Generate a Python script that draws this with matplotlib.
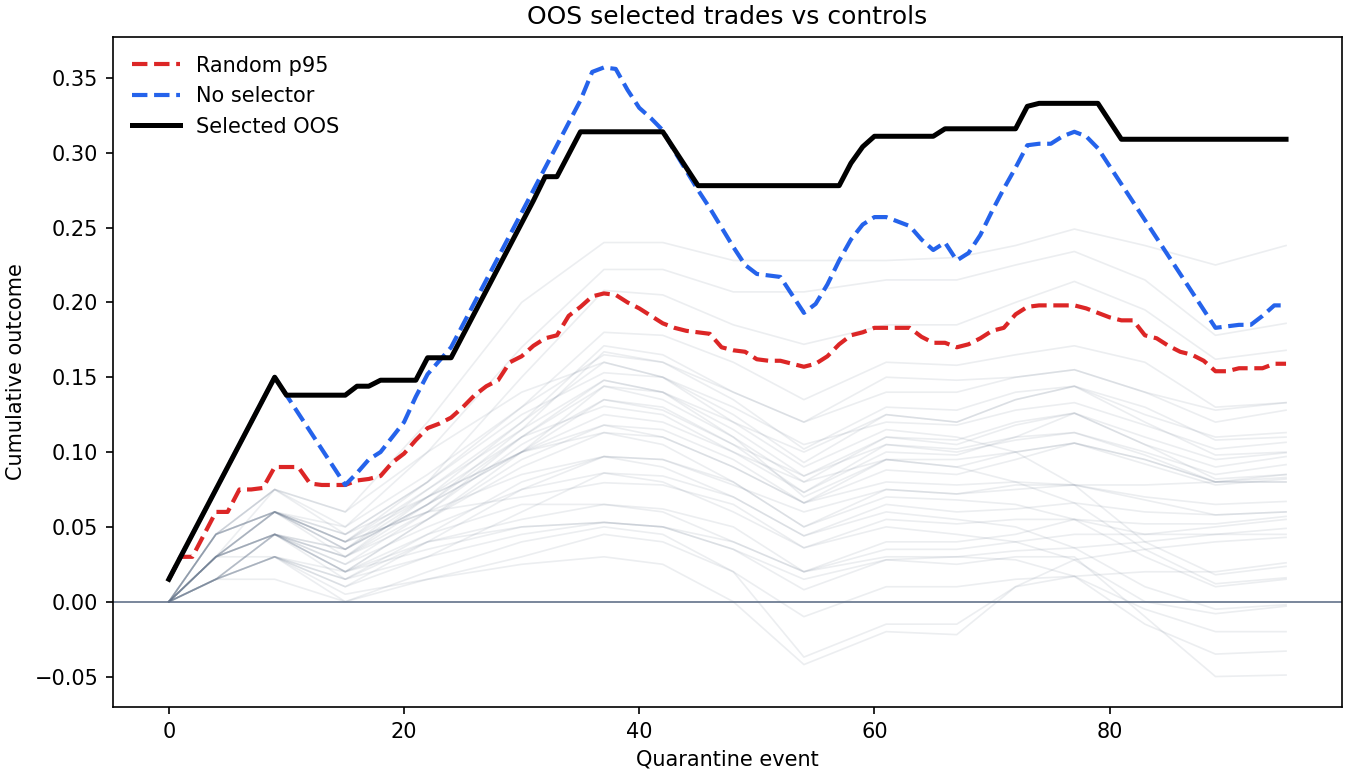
import numpy as np
import matplotlib
matplotlib.use("Agg")
import matplotlib.pyplot as plt

# events 0..95
events = list(range(96))

selected_oos = [
    0.015, 0.030, 0.045, 0.060, 0.075, 0.090, 0.105, 0.120, 0.135, 0.150,
    0.138, 0.138, 0.138, 0.138, 0.138, 0.138, 0.144, 0.144, 0.148, 0.148,
    0.148, 0.148, 0.163, 0.163, 0.163, 0.178, 0.193, 0.208, 0.223, 0.238,
    0.253, 0.268, 0.284, 0.284, 0.299, 0.314, 0.314, 0.314, 0.314, 0.314,
    0.314, 0.314, 0.314, 0.302, 0.290, 0.278, 0.278, 0.278, 0.278, 0.278,
    0.278, 0.278, 0.278, 0.278, 0.278, 0.278, 0.278, 0.278, 0.293, 0.304,
    0.311, 0.311, 0.311, 0.311, 0.311, 0.311, 0.316, 0.316, 0.316, 0.316,
    0.316, 0.316, 0.316, 0.331, 0.333, 0.333, 0.333, 0.333, 0.333, 0.333,
    0.321, 0.309, 0.309, 0.309, 0.309, 0.309, 0.309, 0.309, 0.309, 0.309,
    0.309, 0.309, 0.309, 0.309, 0.309, 0.309,
]

no_selector = [
    0.015, 0.030, 0.045, 0.060, 0.075, 0.090, 0.105, 0.120, 0.135, 0.150,
    0.138, 0.126, 0.114, 0.102, 0.090, 0.078, 0.086, 0.095, 0.100, 0.110,
    0.120, 0.137, 0.152, 0.161, 0.170, 0.185, 0.200, 0.215, 0.230, 0.245,
    0.260, 0.275, 0.290, 0.305, 0.320, 0.335, 0.354, 0.357, 0.356, 0.342,
    0.330, 0.323, 0.315, 0.301, 0.288, 0.275, 0.263, 0.250, 0.237, 0.225,
    0.219, 0.218, 0.217, 0.205, 0.193, 0.199, 0.212, 0.228, 0.242, 0.252,
    0.257, 0.257, 0.254, 0.251, 0.242, 0.235, 0.240, 0.228, 0.233, 0.245,
    0.261, 0.276, 0.290, 0.305, 0.306, 0.306, 0.311, 0.314, 0.311, 0.303,
    0.291, 0.279, 0.267, 0.255, 0.243, 0.231, 0.219, 0.207, 0.195, 0.183,
    0.184, 0.185, 0.185, 0.191, 0.198, 0.198,
]

random_p95 = [
    0.015, 0.030, 0.030, 0.045, 0.060, 0.060, 0.075, 0.075, 0.076, 0.090,
    0.090, 0.090, 0.079, 0.078, 0.078, 0.078, 0.081, 0.082, 0.084, 0.093,
    0.099, 0.108, 0.116, 0.119, 0.123, 0.130, 0.138, 0.144, 0.148, 0.160,
    0.164, 0.171, 0.176, 0.178, 0.191, 0.197, 0.204, 0.206, 0.205, 0.200,
    0.196, 0.191, 0.186, 0.183, 0.181, 0.180, 0.179, 0.170, 0.168, 0.167,
    0.162, 0.161, 0.161, 0.159, 0.157, 0.159, 0.164, 0.172, 0.178, 0.180,
    0.183, 0.183, 0.183, 0.183, 0.177, 0.173, 0.173, 0.170, 0.172, 0.176,
    0.181, 0.183, 0.192, 0.197, 0.198, 0.198, 0.198, 0.198, 0.196, 0.193,
    0.190, 0.188, 0.188, 0.178, 0.176, 0.171, 0.167, 0.165, 0.161, 0.154,
    0.154, 0.156, 0.156, 0.156, 0.159, 0.159,
]

# random control paths, read at these events
control_events = [0, 4, 9, 15, 22, 30, 37, 42, 48, 54, 61, 67, 72, 77, 83, 89, 95]
controls = [
    [0, 0.045, 0.075, 0.060, 0.120, 0.200, 0.240, 0.240, 0.228, 0.228, 0.228, 0.230, 0.238, 0.249, 0.238, 0.225, 0.238],
    [0, 0.030, 0.060, 0.050, 0.100, 0.170, 0.222, 0.222, 0.207, 0.207, 0.215, 0.215, 0.225, 0.234, 0.215, 0.178, 0.186],
    [0, 0.045, 0.060, 0.040, 0.080, 0.150, 0.208, 0.205, 0.185, 0.172, 0.185, 0.185, 0.200, 0.214, 0.195, 0.162, 0.168],
    [0, 0.030, 0.075, 0.050, 0.085, 0.130, 0.180, 0.178, 0.160, 0.135, 0.160, 0.158, 0.165, 0.171, 0.160, 0.130, 0.133],
    [0, 0.045, 0.060, 0.030, 0.070, 0.120, 0.171, 0.165, 0.140, 0.120, 0.150, 0.148, 0.150, 0.155, 0.140, 0.120, 0.128],
    [0, 0.015, 0.045, 0.035, 0.065, 0.115, 0.167, 0.160, 0.135, 0.102, 0.130, 0.128, 0.140, 0.144, 0.125, 0.110, 0.113],
    [0, 0.030, 0.060, 0.040, 0.075, 0.120, 0.160, 0.150, 0.125, 0.093, 0.125, 0.120, 0.135, 0.144, 0.130, 0.108, 0.110],
    [0, 0.045, 0.075, 0.045, 0.080, 0.125, 0.153, 0.150, 0.130, 0.105, 0.120, 0.118, 0.128, 0.133, 0.118, 0.102, 0.1065],
    [0, 0.030, 0.045, 0.025, 0.060, 0.110, 0.148, 0.140, 0.115, 0.084, 0.110, 0.108, 0.120, 0.126, 0.110, 0.095, 0.0995],
    [0, 0.015, 0.030, 0.020, 0.055, 0.100, 0.144, 0.135, 0.110, 0.080, 0.110, 0.105, 0.118, 0.126, 0.105, 0.090, 0.097],
    [0, 0.030, 0.045, 0.030, 0.060, 0.105, 0.135, 0.130, 0.105, 0.073, 0.100, 0.098, 0.110, 0.113, 0.100, 0.085, 0.0916],
    [0, 0.045, 0.060, 0.035, 0.065, 0.110, 0.1306, 0.125, 0.100, 0.073, 0.105, 0.100, 0.108, 0.113, 0.098, 0.080, 0.085],
    [0, 0.015, 0.045, 0.030, 0.055, 0.095, 0.118, 0.115, 0.095, 0.066, 0.095, 0.090, 0.100, 0.106, 0.095, 0.080, 0.083],
    [0, 0.030, 0.060, 0.045, 0.070, 0.100, 0.113, 0.110, 0.090, 0.066, 0.088, 0.085, 0.095, 0.106, 0.092, 0.078, 0.082],
    [0, 0.015, 0.030, 0.015, 0.045, 0.080, 0.097, 0.095, 0.080, 0.050, 0.075, 0.072, 0.078, 0.078, 0.070, 0.065, 0.067],
    [0, 0.030, 0.045, 0.025, 0.050, 0.075, 0.086, 0.084, 0.070, 0.044, 0.065, 0.060, 0.062, 0.066, 0.060, 0.058, 0.060],
    [0, 0.045, 0.060, 0.040, 0.060, 0.070, 0.0795, 0.078, 0.065, 0.036, 0.055, 0.052, 0.055, 0.055, 0.052, 0.052, 0.057],
    [0, 0.015, 0.030, 0.010, 0.040, 0.055, 0.065, 0.062, 0.050, 0.020, 0.040, 0.040, 0.045, 0.055, 0.045, 0.050, 0.055],
    [0, 0.030, 0.045, 0.020, 0.035, 0.050, 0.053, 0.050, 0.035, 0.008, 0.028, 0.030, 0.034, 0.036, 0.040, 0.045, 0.049],
    [0, 0.015, 0.015, 0.000, 0.020, 0.040, 0.050, 0.045, 0.020, -0.037, -0.015, -0.015, 0.010, 0.028, 0.035, 0.040, 0.043],
    [0, 0.030, 0.030, 0.005, 0.015, 0.025, 0.030, 0.025, 0.000, -0.042, -0.020, -0.022, 0.010, 0.017, 0.020, 0.020, 0.026],
    [0, 0.045, 0.075, 0.060, 0.100, 0.140, 0.160, 0.150, 0.120, 0.090, 0.115, 0.110, 0.100, 0.078, 0.040, 0.018, 0.0236],
    [0, 0.030, 0.060, 0.035, 0.075, 0.115, 0.148, 0.140, 0.110, 0.070, 0.095, 0.090, 0.080, 0.066, 0.035, 0.012, 0.016],
    [0, 0.015, 0.045, 0.020, 0.055, 0.090, 0.113, 0.105, 0.080, 0.050, 0.070, 0.068, 0.065, 0.055, 0.030, 0.010, 0.015],
    [0, 0.030, 0.045, 0.015, 0.040, 0.075, 0.097, 0.090, 0.070, 0.044, 0.060, 0.055, 0.050, 0.036, 0.010, -0.005, -0.002],
    [0, 0.015, 0.030, 0.010, 0.030, 0.060, 0.086, 0.080, 0.060, 0.036, 0.050, 0.045, 0.040, 0.028, 0.000, -0.008, -0.003],
    [0, 0.030, 0.045, 0.020, 0.045, 0.065, 0.065, 0.060, 0.040, 0.020, 0.030, 0.030, 0.028, 0.017, -0.005, -0.020, -0.020],
    [0, 0.015, 0.030, 0.000, 0.015, 0.030, 0.045, 0.040, 0.020, -0.010, 0.010, 0.010, 0.015, 0.017, -0.015, -0.035, -0.033],
    [0, 0.015, 0.045, 0.020, 0.040, 0.050, 0.053, 0.050, 0.035, 0.015, 0.028, 0.025, 0.030, 0.030, -0.010, -0.050, -0.049],
    [0, 0.045, 0.060, 0.045, 0.080, 0.130, 0.165, 0.160, 0.140, 0.120, 0.140, 0.140, 0.150, 0.155, 0.140, 0.128, 0.133],
    [0, 0.030, 0.045, 0.035, 0.070, 0.110, 0.144, 0.140, 0.120, 0.100, 0.125, 0.120, 0.135, 0.144, 0.120, 0.098, 0.100],
    [0, 0.015, 0.045, 0.030, 0.065, 0.100, 0.135, 0.128, 0.105, 0.084, 0.105, 0.102, 0.110, 0.126, 0.105, 0.082, 0.085],
    [0, 0.030, 0.060, 0.040, 0.060, 0.085, 0.097, 0.095, 0.078, 0.060, 0.075, 0.072, 0.075, 0.078, 0.068, 0.058, 0.060],
    [0, 0.015, 0.030, 0.015, 0.030, 0.045, 0.053, 0.050, 0.040, 0.020, 0.035, 0.035, 0.040, 0.045, 0.045, 0.045, 0.045],
    [0, 0.030, 0.060, 0.040, 0.070, 0.100, 0.118, 0.110, 0.090, 0.066, 0.080, 0.078, 0.080, 0.078, 0.078, 0.080, 0.080],
    [0, 0.045, 0.060, 0.035, 0.065, 0.100, 0.125, 0.120, 0.100, 0.080, 0.095, 0.095, 0.100, 0.106, 0.095, 0.080, 0.080],
]

dpi = 150
fig = plt.figure(figsize=(9, 5.2), dpi=dpi)
ax = fig.add_axes([0.0837, 0.0936, 0.9103, 0.859])

for c in controls:
    ax.plot(control_events, c, color="#64748b", alpha=0.12, linewidth=0.8, zorder=1)

ax.axhline(0, color="#64748b", linewidth=0.9, alpha=0.9, zorder=2)

ax.plot(events, random_p95, color="#dc2626", linestyle="--", linewidth=2.0, label="Random p95", zorder=3)
ax.plot(events, no_selector, color="#2563eb", linestyle="--", linewidth=2.0, label="No selector", zorder=4)
ax.plot(events, selected_oos, color="black", linewidth=2.4, label="Selected OOS", zorder=5)

ax.set_title("OOS selected trades vs controls")
ax.set_xlabel("Quarantine event")
ax.set_ylabel("Cumulative outcome")
ax.legend(loc="upper left", frameon=False, handlelength=2.3)

fig.savefig("out.png", dpi=dpi)
